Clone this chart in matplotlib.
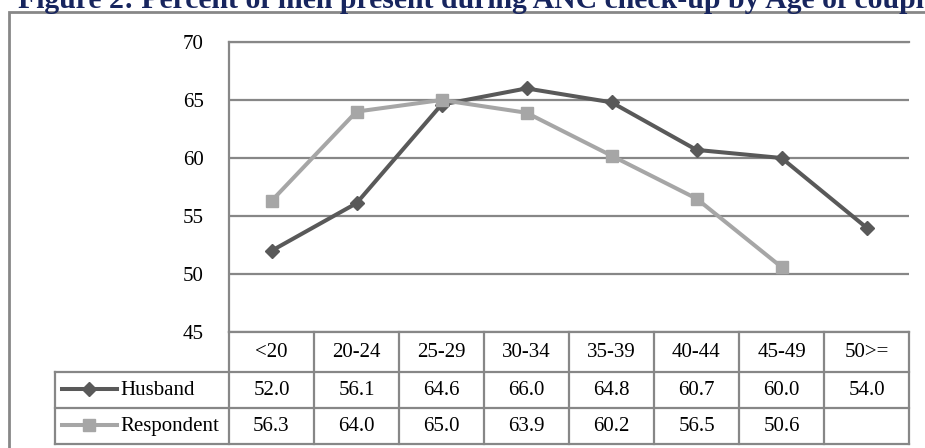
import matplotlib
matplotlib.use("Agg")
import matplotlib.pyplot as plt
from matplotlib.patches import Rectangle
from matplotlib.transforms import blended_transform_factory

# ---- data -------------------------------------------------------------
age_groups = ["<20", "20-24", "25-29", "30-34", "35-39", "40-44", "45-49", "50>="]
husband = [52.0, 56.1, 64.6, 66.0, 64.8, 60.7, 60.0, 54.0]
respondent = [56.3, 64.0, 65.0, 63.9, 60.2, 56.5, 50.6, None]
series_names = ["Husband", "Respondent"]
y_ticks = [45, 50, 55, 60, 65, 70]
title = "Figure 2: Percent of men present during ANC check-up by Age of couple"

# ---- styling ----------------------------------------------------------
plt.rcParams["font.family"] = ["Liberation Serif", "DejaVu Serif"]
W, H = 925, 448
GRID = "#878787"
DARK = "#595959"
LIGHT = "#A6A6A6"
FS = 15
LW = 2.9

fig = plt.figure(figsize=(W / 100, H / 100), dpi=100)


def fx(px):
    return px / W


def fy(py):
    return 1 - py / H


# plot area in pixel terms
L, R, T, B = 229, 909, 42, 332
ax = fig.add_axes([fx(L), fy(B), fx(R) - fx(L), fy(T) - fy(B)])


def ax_x(px):
    return (px - L) / (R - L)


def ax_y(py):
    return (B - py) / (B - T)


# outer frame
fig.patches.append(Rectangle((fx(9), fy(470)), fx(940) - fx(9), fy(12) - fy(470),
                             transform=fig.transFigure, fill=False,
                             edgecolor=GRID, linewidth=2.0, zorder=0))

fig.text(fx(18), fy(8.5), title, fontsize=21.4, fontweight="bold",
         color="#17255E", ha="left", va="baseline")

x = list(range(len(age_groups)))
ax.plot(x, husband, color=DARK, lw=LW, marker="D", ms=7.5, zorder=3)
rx = [i for i, v in zip(x, respondent) if v is not None]
rv = [v for v in respondent if v is not None]
ax.plot(rx, rv, color=LIGHT, lw=LW, marker="s", ms=8.5, zorder=3)

ax.set_xlim(-0.5, len(age_groups) - 0.5)
ax.set_ylim(y_ticks[0], y_ticks[-1])
ax.set_yticks(y_ticks)
ax.set_xticks([])
ax.tick_params(axis="y", length=0, pad=18, labelsize=FS)
ax.grid(axis="y", color=GRID, lw=1.6)
ax.set_axisbelow(True)
for side in ("left", "top", "bottom"):
    ax.spines[side].set_color(GRID)
    ax.spines[side].set_linewidth(1.6)
ax.spines["right"].set_visible(False)

# ---- data table below the plot ---------------------------------------
ta = ax.transAxes
lk = dict(color=GRID, lw=1.6, transform=ta, clip_on=False, solid_capstyle="projecting")
row_lines = [372, 408, 444]
for py in row_lines:
    ax.plot([ax_x(55), 1], [ax_y(py), ax_y(py)], **lk)
ax.plot([ax_x(55), ax_x(55)], [ax_y(372), ax_y(444)], **lk)
ax.plot([0, 0], [0, ax_y(444)], **lk)
col_w = (R - L) / len(age_groups)
for i in range(1, len(age_groups) + 1):
    xx = ax_x(L + i * col_w)
    ax.plot([xx, xx], [0, ax_y(444)], **lk)

bt = blended_transform_factory(ax.transData, ta)
for i, lab in enumerate(age_groups):
    ax.text(i, ax_y(352), lab, transform=bt, ha="center", va="center", fontsize=FS)
for row_py, vals in ((390, husband), (426, respondent)):
    for i, v in enumerate(vals):
        if v is not None:
            ax.text(i, ax_y(row_py), f"{v:.1f}", transform=bt,
                    ha="center", va="center", fontsize=FS)

# legend keys in the row headers
for row_py, name, col, mk, ms in ((390, series_names[0], DARK, "D", 7.5),
                                  (426, series_names[1], LIGHT, "s", 8.5)):
    yy = ax_y(row_py - 1)
    ax.plot([ax_x(62), ax_x(117)], [yy, yy], color=col, lw=LW,
            transform=ta, clip_on=False)
    ax.plot([ax_x(89)], [yy], color=col, marker=mk, ms=ms,
            transform=ta, clip_on=False)
    ax.text(ax_x(120), ax_y(row_py), name, transform=ta,
            ha="left", va="center", fontsize=FS)

fig.savefig("out.png", dpi=100)
